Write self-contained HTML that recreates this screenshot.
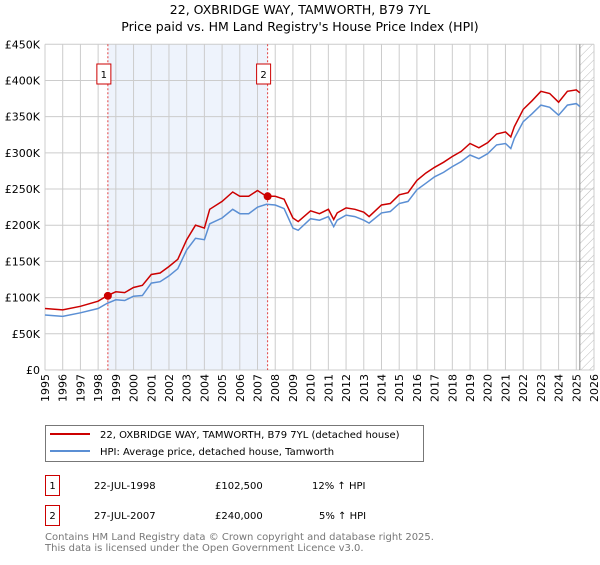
<!DOCTYPE html>
<html><head><meta charset="utf-8"><style>
body{margin:0;background:#fff;font-family:"Liberation Sans","DejaVu Sans",sans-serif;}
svg text{font-family:"DejaVu Sans","Liberation Sans",sans-serif;}
</style></head><body>
<svg id="chart" width="600" height="560" xmlns="http://www.w3.org/2000/svg">
<defs><pattern id="hatch" width="6" height="6" patternUnits="userSpaceOnUse" patternTransform="rotate(45)"><line x1="0" y1="0" x2="0" y2="6" stroke="#bbb" stroke-width="1"/></pattern></defs>
<text x="300" y="14" text-anchor="middle" font-size="12.5">22, OXBRIDGE WAY, TAMWORTH, B79 7YL</text>
<text x="300" y="31" text-anchor="middle" font-size="12.5">Price paid vs. HM Land Registry's House Price Index (HPI)</text>
<g id="plot"></g>
<g>
<rect x="45.5" y="425.5" width="378" height="36" fill="#fff" stroke="#777"/>
<line x1="50" y1="434" x2="90" y2="434" stroke="#cc0000" stroke-width="2"/>
<text x="100" y="438" font-size="10">22, OXBRIDGE WAY, TAMWORTH, B79 7YL (detached house)</text>
<line x1="50" y1="451" x2="90" y2="451" stroke="#5b8fd4" stroke-width="2"/>
<text x="100" y="455" font-size="10">HPI: Average price, detached house, Tamworth</text>
</g>
<g font-size="10">
<rect x="45.5" y="475.5" width="14" height="20" fill="#fff" stroke="#cc0000"/><text x="52.5" y="489" text-anchor="middle">1</text>
<text x="94" y="489">22-JUL-1998</text><text x="215" y="489">£102,500</text><text x="312" y="489">12% ↑ HPI</text>
<rect x="45.5" y="505.5" width="14" height="20" fill="#fff" stroke="#cc0000"/><text x="52.5" y="519" text-anchor="middle">2</text>
<text x="94" y="519">27-JUL-2007</text><text x="215" y="519">£240,000</text><text x="319" y="519">5% ↑ HPI</text>
</g>
<text x="45" y="540" font-size="10" fill="#777">Contains HM Land Registry data © Crown copyright and database right 2025.</text>
<text x="45" y="551" font-size="10" fill="#777">This data is licensed under the Open Government Licence v3.0.</text>
</svg>
<script>
const years=[1995,1996,1997,1998,1998.5,1999,1999.5,2000,2000.5,2001,2001.5,2002,2002.5,2003,2003.5,2004,2004.3,2005,2005.6,2006,2006.5,2007,2007.5,2008,2008.5,2009,2009.3,2010,2010.5,2011,2011.3,2011.5,2012,2012.5,2013,2013.3,2014,2014.5,2015,2015.5,2016,2016.5,2017,2017.5,2018,2018.5,2019,2019.5,2020,2020.5,2021,2021.3,2021.5,2022,2022.5,2023,2023.5,2024,2024.5,2025,2025.2];
const hpi=[76,74,79,85,92,97,96,102,103,120,122,130,140,166,182,180,202,210,222,216,216,225,229,228,223,196,193,209,207,212,198,207,214,212,207,203,217,219,230,233,249,258,267,273,281,288,297,292,299,311,313,306,320,343,354,366,363,352,366,368,364];
const price=[85,83,88,95,102.5,108,107,114,117,132,134,143,153,180,200,196,222,233,246,240,240,248,240,240,236,210,205,220,216,222,208,217,224,222,218,212,228,230,242,245,262,272,280,287,295,302,313,307,314,326,329,322,336,360,372,385,382,370,385,387,383];
const yTicks=[0,50,100,150,200,250,300,350,400,450];
const xTicks=[1995,1996,1997,1998,1999,2000,2001,2002,2003,2004,2005,2006,2007,2008,2009,2010,2011,2012,2013,2014,2015,2016,2017,2018,2019,2020,2021,2022,2023,2024,2025,2026];
const saleYears=[1998.55,2007.57];
const salePrices=[102.5,240];
const saleLabels=["1","2"];
const dataEnd=2025.2;
const X0=45,X1=594,Y0=370,Y1=44.3;
const x=v=>X0+(v-1995)/(2026-1995)*(X1-X0);
const y=v=>Y0-v/450*(Y0-Y1);
const NS="http://www.w3.org/2000/svg";
const g=document.getElementById('plot');
function mk(t,a){const e=document.createElementNS(NS,t);for(const k in a)e.setAttribute(k,a[k]);g.appendChild(e);return e;}
let e=mk('rect',{x:X0,y:Y1,width:X1-X0,height:Y0-Y1,fill:'#fff'});


e=mk('rect',{x:x(saleYears[0]),y:Y1,width:x(saleYears[1])-x(saleYears[0]),height:Y0-Y1,fill:'#eef3fc'});


e=mk('rect',{x:x(dataEnd),y:Y1,width:X1-x(dataEnd),height:Y0-Y1,fill:'url(#hatch)'});


xTicks.forEach(t=>{const l=mk('line',{x1:x(t),x2:x(t),y1:Y1,y2:Y0,stroke:'#ccc'});


const tx=mk('text',{x:0,y:0,'font-size':11,'text-anchor':'end',transform:`translate(${x(t)+4},${Y0+4}) rotate(-90)`});tx.textContent=t;

});
yTicks.forEach(t=>{const l=mk('line',{x1:X0,x2:X1,y1:y(t),y2:y(t),stroke:'#ccc'});


const tx=mk('text',{x:40,y:y(t)+4,'font-size':11,'text-anchor':'end'});tx.textContent=t===0?'£0':'£'+t+'K';

});
e=mk('line',{x1:x(dataEnd),x2:x(dataEnd),y1:Y1,y2:Y0,stroke:'#888'});


saleYears.forEach((s,i)=>{const l=mk('line',{x1:x(s),x2:x(s),y1:Y1,y2:Y0,stroke:'#e04040','stroke-dasharray':'2,2'});


const r=mk('rect',{x:x(s)-11,y:64,width:14,height:20,fill:'#fff',stroke:'#cc0000'});


const t=mk('text',{x:x(s)-4,y:78,'font-size':10,'text-anchor':'middle'});t.textContent=saleLabels[i];

});
const pts=a=>years.map((yr,i)=>x(yr).toFixed(1)+','+y(a[i]).toFixed(1)).join(' ');
e=mk('polyline',{points:pts(hpi),fill:'none',stroke:'#5b8fd4','stroke-width':1.5});


e=mk('polyline',{points:pts(price),fill:'none',stroke:'#cc0000','stroke-width':1.5});


saleYears.forEach((s,i)=>{const c=mk('circle',{cx:x(s),cy:y(salePrices[i]),r:4,fill:'#cc0000'});

});
</script>
</body></html>
